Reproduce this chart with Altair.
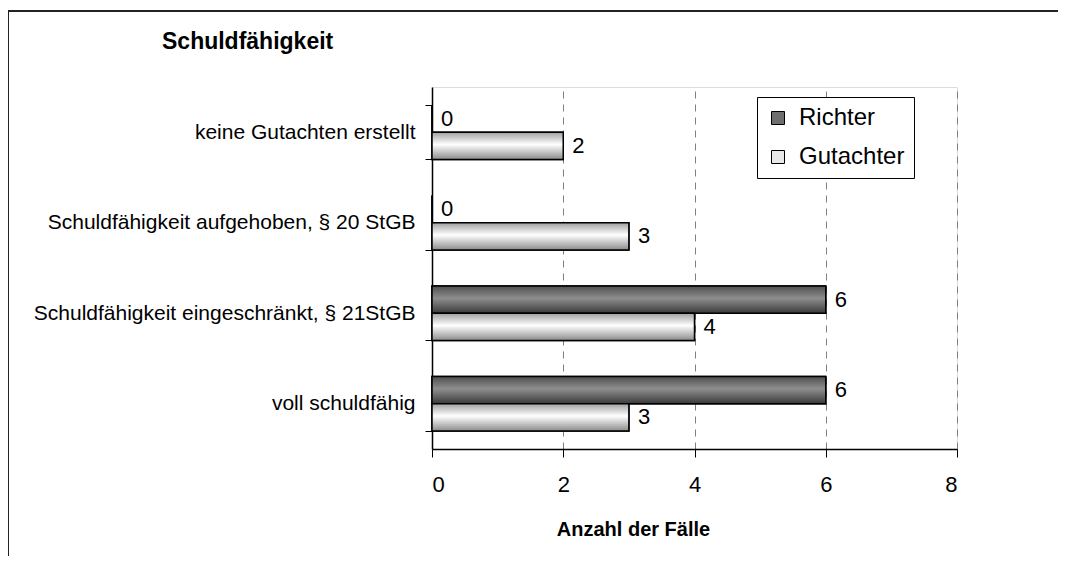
import altair as alt
import pandas as pd

categories = [
    "keine Gutachten erstellt",
    "Schuldfähigkeit aufgehoben, § 20 StGB",
    "Schuldfähigkeit eingeschränkt, § 21StGB",
    "voll schuldfähig",
]
series = ["Richter", "Gutachter"]
richter = [0, 0, 6, 6]
gutachter = [2, 3, 4, 3]
x_ticks = [0, 2, 4, 6, 8]
chart_title = ["Schuldfähigkeit"]

rows = []
for c, r, g in zip(categories, richter, gutachter):
    rows.append({"Kategorie": c, "Reihe": "Richter", "Anzahl": r})
    rows.append({"Kategorie": c, "Reihe": "Gutachter", "Anzahl": g})
df = pd.DataFrame(rows)

FONT = "Liberation Sans"

grad_dark = alt.LinearGradient(
    gradient="linear", x1=0, y1=0, x2=0, y2=1,
    stops=[
        alt.GradientStop(color="#505050", offset=0),
        alt.GradientStop(color="#8e8e8e", offset=0.45),
        alt.GradientStop(color="#3a3a3a", offset=1),
    ],
)
grad_light = alt.LinearGradient(
    gradient="linear", x1=0, y1=0, x2=0, y2=1,
    stops=[
        alt.GradientStop(color="#a0a0a0", offset=0),
        alt.GradientStop(color="#ffffff", offset=0.45),
        alt.GradientStop(color="#8c8c8c", offset=1),
    ],
)

y_enc = alt.Y(
    "Kategorie:N",
    sort=categories,
    scale=alt.Scale(domain=categories, paddingInner=0.4, paddingOuter=0.2),
    axis=alt.Axis(
        title=None, labelFontSize=21, labelFont=FONT, labelColor="black",
        labelPadding=10, labelLimit=600, tickBand="extent", tickSize=7,
        tickColor="black", domainColor="black", domainWidth=1.5, grid=False,
    ),
)
yoff = alt.YOffset(
    "Reihe:N", sort=series,
    scale=alt.Scale(domain=series, paddingInner=0, paddingOuter=0),
)
x_enc = alt.X(
    "Anzahl:Q",
    scale=alt.Scale(domain=[0, 8], nice=False),
    axis=alt.Axis(
        values=x_ticks, format="d", title="Anzahl der Fälle",
        labelFontSize=22, labelFont=FONT, labelColor="black", labelPadding=17,
        tickSize=8, tickColor="black", domainColor="black", domainWidth=1.5,
        grid=True, gridDash=[7, 6], gridColor="#808080", gridWidth=1,
        titleFont=FONT, titleFontSize=20, titleFontWeight="bold", titleColor="black",
        titleX=201, titleY=86, titleBaseline="alphabetic", titleAlign="center",
    ),
)

base = alt.Chart(df)

bars_legend = base.mark_bar(stroke="black", strokeWidth=1.5).encode(
    x=x_enc, y=y_enc, yOffset=yoff,
    color=alt.Color(
        "Reihe:N", sort=series,
        scale=alt.Scale(domain=series, range=["#6e6e6e", "#e8e8e8"]),
        legend=alt.Legend(
            title=None, orient="none", legendX=325, legendY=10,
            labelFontSize=24, labelFont=FONT, labelColor="black",
            symbolType="square", symbolSize=169, symbolStrokeColor="black",
            symbolStrokeWidth=1, symbolOpacity=1, strokeColor="black",
            fillColor="white", padding=9, rowPadding=15, labelOffset=9,
        ),
    ),
)

bars_r = base.transform_filter(alt.datum.Reihe == "Richter").mark_bar(
    color=grad_dark, stroke="black", strokeWidth=1.5
).encode(x=x_enc, y=y_enc, yOffset=yoff)

bars_g = base.transform_filter(alt.datum.Reihe == "Gutachter").mark_bar(
    color=grad_light, stroke="black", strokeWidth=1.5
).encode(x=x_enc, y=y_enc, yOffset=yoff)

labels = base.mark_text(
    align="left", baseline="middle", dx=9, fontSize=22, font=FONT, color="black"
).encode(x=x_enc, y=y_enc, yOffset=yoff, text="Anzahl:Q")

frame = alt.Chart(pd.DataFrame({"f": [0]})).mark_rect(
    fill="white", fillOpacity=0, stroke="#222222", strokeWidth=2
).encode(
    x=alt.value(-424), x2=alt.value(800), y=alt.value(-76), y2=alt.value(700)
)

title_text = alt.Chart(pd.DataFrame({"t": chart_title})).mark_text(
    align="left", baseline="alphabetic", fontSize=23, font=FONT,
    fontWeight="bold", color="black",
).encode(text="t:N", x=alt.value(-270), y=alt.value(-38))

chart = alt.layer(frame, bars_legend, bars_r, bars_g, labels, title_text).properties(
    width=525,
    height=362,
    autosize="none",
    padding={"left": 424, "top": 79, "right": 101, "bottom": 107},
).configure_view(stroke="#808080", strokeWidth=1.5).configure(background="white")

chart.save("out.html", embed_options={"renderer": "svg", "actions": False})
